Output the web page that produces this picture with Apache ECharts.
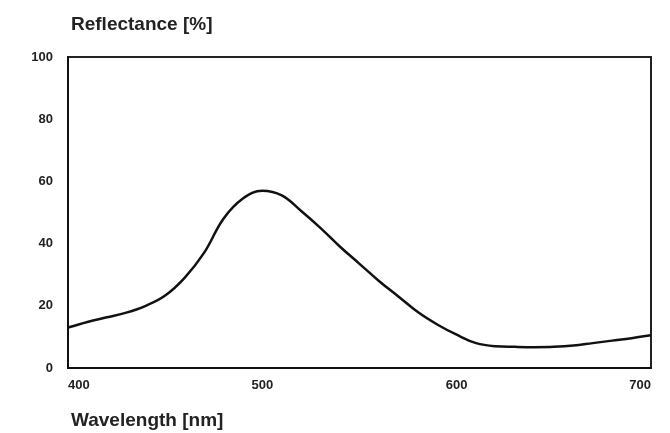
<!DOCTYPE html>
<html><head><meta charset="utf-8">
<script src="https://cdn.jsdelivr.net/npm/echarts@6/dist/echarts.min.js"></script>
<style>html,body{margin:0;padding:0;background:#fff}#c{width:670px;height:433px}</style>
</head><body><div id="c"></div>
<script>
const wavelengths = [400,410,420,430,440,450,460,470,480,490,500,510,520,530,540,550,560,570,580,590,600,610,620,630,640,650,660,670,680,690,700];
const reflectance = [13,14.8,16.3,17.8,20,23.3,29,37,48,54.5,57,55.5,50.5,45,39,33.5,28,23,18,14,10.7,8,7,6.8,6.7,6.8,7.2,8,8.8,9.6,10.5];
const xTicks = [400,500,600,700];
const yTicks = [0,20,40,60,80,100];
const yTitle = 'Reflectance [%]';
const xTitle = 'Wavelength [nm]';

const chart = echarts.init(document.getElementById('c'));
const font = '"Liberation Sans",Arial,sans-serif';
chart.setOption({
  backgroundColor:'#fff',
  animation:false,
  title:[
    {text:yTitle,left:66,top:10,textStyle:{fontFamily:font,fontSize:19,fontWeight:'bold',color:'#222'}},
    {text:xTitle,left:66,top:406,textStyle:{fontFamily:font,fontSize:19,fontWeight:'bold',color:'#222'}}
  ],
  grid:{left:68,right:19,top:57,bottom:65,show:true,borderColor:'#222',borderWidth:2,backgroundColor:'transparent'},
  xAxis:{type:'value',min:400,max:700,interval:100,
    axisLine:{show:true,lineStyle:{color:'#111',width:2}},
    axisTick:{show:false},splitLine:{show:false},
    axisLabel:{margin:11,fontFamily:font,fontSize:13,fontWeight:'bold',color:'#222',alignMinLabel:'left',alignMaxLabel:'right',
      formatter:v=>xTicks.includes(v)?String(v):''}
  },
  yAxis:{type:'value',min:0,max:100,interval:20,
    axisLine:{show:true,lineStyle:{color:'#111',width:2}},
    axisTick:{show:false},splitLine:{show:false},
    axisLabel:{margin:15,fontFamily:font,fontSize:13,fontWeight:'bold',color:'#222',
      formatter:v=>yTicks.includes(v)?String(v):''}
  },
  series:[{type:'line',smooth:0.4,symbol:'none',
    data:wavelengths.map((w,i)=>[w,reflectance[i]]),
    lineStyle:{color:'#111',width:2.5}}]
});
</script></body></html>
